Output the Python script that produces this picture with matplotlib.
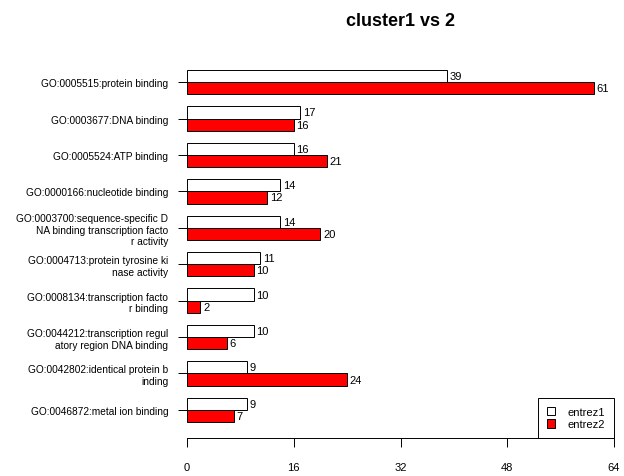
import matplotlib
matplotlib.use("Agg")
import matplotlib.pyplot as plt
from matplotlib.patches import Patch
import numpy as np

plt.rcParams['font.family'] = ['Liberation Sans', 'DejaVu Sans']

terms = [
    "GO:0005515:protein binding",
    "GO:0003677:DNA binding",
    "GO:0005524:ATP binding",
    "GO:0000166:nucleotide binding",
    "GO:0003700:sequence-specific D\nNA binding transcription facto\nr activity",
    "GO:0004713:protein tyrosine ki\nnase activity",
    "GO:0008134:transcription facto\nr binding",
    "GO:0044212:transcription regul\natory region DNA binding",
    "GO:0042802:identical protein b\ninding",
    "GO:0046872:metal ion binding",
]
entrez1 = [39, 17, 16, 14, 14, 11, 10, 10, 9, 9]
entrez2 = [61, 16, 21, 12, 20, 10, 2, 6, 24, 7]
xticks = [0, 16, 32, 48, 64]
series_names = ["entrez1", "entrez2"]
title = "cluster1 vs 2"

W, H = 624, 477
fig = plt.figure(figsize=(W / 100, H / 100), dpi=100)

# plot region in pixels
left, right, top, bottom = 187, 614, 55, 439
ax = fig.add_axes([left / W, 1 - bottom / H, (right - left) / W, (bottom - top) / H])

n = len(terms)
groups = np.arange(n)
pos1 = 3 * groups + 1.5
pos2 = 3 * groups + 2.5

ax.barh(pos1, entrez1, height=1.0, color="white", edgecolor="black", linewidth=0.7)
ax.barh(pos2, entrez2, height=1.0, color="#FF0000", edgecolor="black", linewidth=0.7)

for y, v in zip(pos1, entrez1):
    ax.text(v + 0.4, y, str(v), va="center", ha="left", fontsize=8)
for y, v in zip(pos2, entrez2):
    ax.text(v + 0.4, y, str(v), va="center", ha="left", fontsize=8)

ax.set_xlim(0, 64)
ax.set_ylim(31.32, -0.32)

ax.set_yticks(3 * groups + 2)
ax.set_yticklabels(terms, fontsize=7.3, multialignment="right")
ax.tick_params(axis="y", length=6.5, width=0.7, pad=7)

ax.set_xticks(xticks)
ax.set_xticklabels([str(t) for t in xticks], fontsize=8)
ax.tick_params(axis="x", length=6.5, width=0.7, pad=11)

for s in ["top", "right", "left"]:
    ax.spines[s].set_visible(False)
ax.spines["bottom"].set_linewidth(0.7)

handles = [Patch(facecolor="white", edgecolor="black", linewidth=0.7),
           Patch(facecolor="#FF0000", edgecolor="black", linewidth=0.7)]
leg = ax.legend(handles, series_names, loc="lower right", bbox_to_anchor=(1, 0),
                borderaxespad=0, fancybox=False, framealpha=1, edgecolor="black",
                fontsize=8, handlelength=0.8, handleheight=0.8, handletextpad=1.1,
                borderpad=0.8, labelspacing=0.2)
leg.get_frame().set_linewidth(0.7)

fig.text((left + right) / 2 / W, 1 - 22 / H, title, ha="center", va="center",
         fontsize=13, fontweight="bold")

fig.savefig("out.png", dpi=100)
